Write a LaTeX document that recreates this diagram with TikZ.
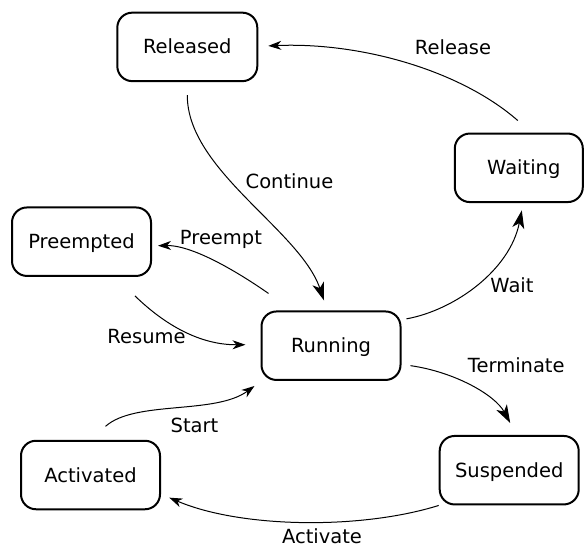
\documentclass[tikz,border=0pt]{standalone}
\usepackage{fontspec}
\setmainfont{DejaVu Sans}
\usetikzlibrary{arrows.meta,calc}
\begin{document}
\begin{tikzpicture}[x=1pt,y=-1pt,
  state/.style={draw,line width=2pt,rounded corners=15pt,minimum width=139pt,minimum height=68.5pt,inner sep=0pt,font=\fontsize{19.5}{22}\selectfont,text height=14pt,text depth=0pt},
  lbl/.style={inner sep=0pt,font=\fontsize{19.5}{22}\selectfont,text height=14pt,text depth=0pt},
  conn/.style={line width=1pt,-{Stealth[length=13pt,width=9pt,inset=4pt]}},
  bigconn/.style={line width=1pt,-{Stealth[length=18pt,width=12pt,inset=5pt]}}]
\useasboundingbox (0,0) rectangle (584,547);

\node[state,minimum width=140pt] (released) at (187.3,46.9) {Released};
\node[state,minimum width=128pt] (waiting) at (518.8,167.8) {\hspace*{10pt}Waiting};
\node[state] (preempted) at (81.5,241.7) {Preempted};
\node[state] (running) at (331,345.7) {Running};
\node[state] (activated) at (90.5,475) {Activated};
\node[state] (suspended) at (509.2,470.2) {Suspended};

\draw[conn] ($(waiting.north)+(-1,-12)$) .. controls (460,70) and (360,42) .. ($(released.east)+(10,-1)$);
\draw[bigconn] ($(released.south)+(0,13)$) .. controls (187,170) and (300,230) .. ($(running.north)+(-7,-10)$);
\draw[conn] ($(running.north west)+(8,-17)$) .. controls (245,277) and (195,245) .. ($(preempted.east)+(6,4)$);
\draw[conn] ($(preempted.south east)+(-17,19)$) .. controls (165,325) and (200,345) .. ($(running.west)+(-15,-1)$);
\draw[bigconn] ($(running.north east)+(5,8.4)$) .. controls (455,310) and (510,270) .. ($(waiting.south)+(3,7.3)$);
\draw[bigconn] ($(running.south east)+(9,-15.3)$) .. controls (455,372) and (495,395) .. ($(suspended.north)+(1,-12)$);
\draw[conn] ($(activated.north)+(15,-13.4)$) .. controls (135,400) and (215,415) .. ($(running.south west)+(-6,5)$);
\draw[conn] (suspended.south west) .. controls (360,530) and (240,528) .. ($(activated.south east)+(8.3,-12.6)$);

\node[lbl] (lrelease) at (453,47) {Release};
\node[lbl] (lcontinue) at (289.5,181) {Continue};
\node[lbl] (lpreempt) at (221,237) {Preempt};
\node[lbl] (lwait) at (512,285) {Wait};
\node[lbl] (lresume) at (146.5,336) {Resume};
\node[lbl] (lterminate) at (516.3,365.7) {Terminate};
\node[lbl] (lstart) at (194.5,425.7) {Start};
\node[lbl] (lactivate) at (322,536.5) {Activate};
\end{tikzpicture}
\end{document}
